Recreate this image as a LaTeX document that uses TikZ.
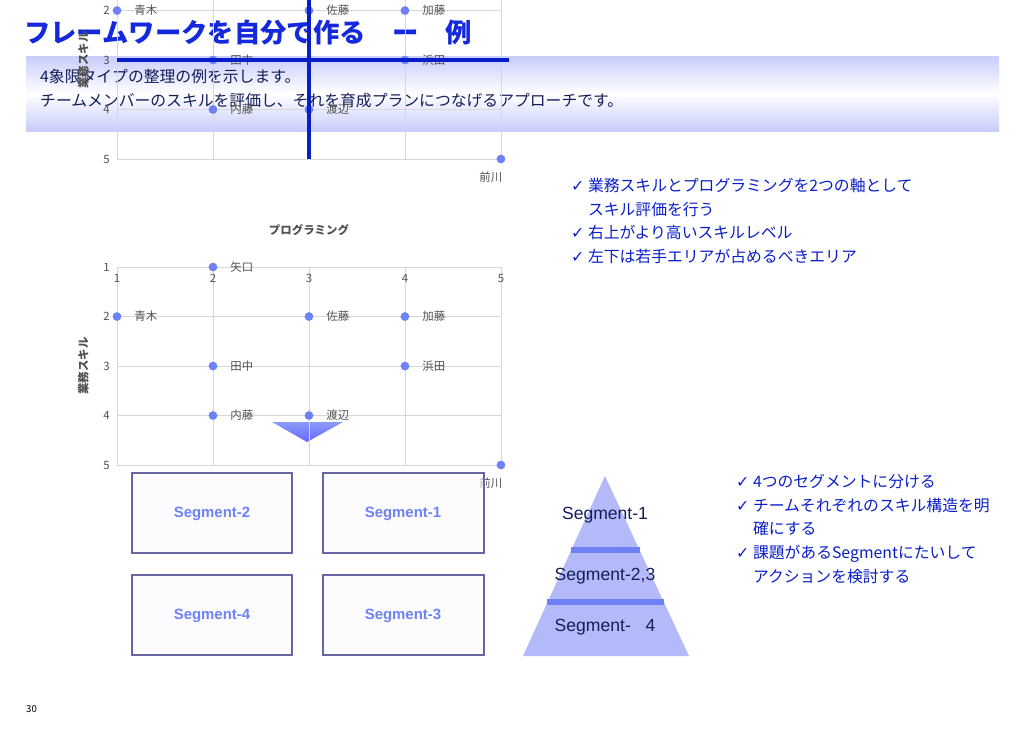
\documentclass[tikz,border=0pt]{standalone}
\usepackage{fontspec}
\setmainfont{Noto Sans CJK JP}
\newfontfamily\symfont{DejaVu Sans}
\newfontfamily\arialfont{Liberation Sans}
\usetikzlibrary{positioning}
\definecolor{titleblue}{RGB}{20,40,220}
\definecolor{textblue}{RGB}{10,30,200}
\definecolor{navy}{RGB}{20,30,90}
\definecolor{dotblue}{RGB}{110,130,245}
\definecolor{gridgray}{RGB}{215,215,215}
\definecolor{lavender}{RGB}{200,205,250}
\definecolor{namegray}{RGB}{80,80,80}
\newcommand{\chk}{{\symfont\char"2713}\ }
\tikzset{
    persondot/.style={fill=dotblue,shape=circle,minimum size=5pt,inner sep=0pt},
    person/.style={text=namegray,anchor=west,inner sep=1pt},
    axisnum/.style={text=namegray,inner sep=1pt},
    segbox/.style={draw=blue!40!black!60,fill=blue!2,thick},
    seglabel/.style={text=dotblue,font=\arialfont\bfseries\fontsize{8.5}{10}\selectfont},
    bullet/.style={text=textblue,align=left,font=\fontsize{9}{13.5}\selectfont},
}
\begin{document}
\begin{tikzpicture}[x=0.02cm,y=-0.02cm,font=\fontsize{6.5}{8}\selectfont]
    %
    \useasboundingbox (0,0) rectangle (1024,728);
    %
    % Title and header band
    \node[anchor=west,text=titleblue,font=\bfseries\fontsize{15}{18}\selectfont] (title) at (18,33) {フレームワークを自分で作る　ー　例};
    \shade[top color=lavender,bottom color=lavender,middle color=white] (26,56) rectangle (999,131);
    \node[anchor=north west,align=left,text=navy,font=\fontsize{9}{13.5}\selectfont] (intro) at (34,63)
        {4象限タイプの整理の例を示します。\\チームメンバーのスキルを評価し、それを育成プランにつなげるアプローチです。};
    %
    % Top chart
    \begin{scope}[shift={(117,159)},x=1.92cm,y=-0.99cm]
        \foreach \i in {1,...,5} {
            \draw[gridgray] (\i-1,-4) -- (\i-1,0);
            \draw[gridgray] (0,\i-5) -- (4,\i-5);
            \node[axisnum,below=3pt] (tx\i) at (\i-1,-4) {\i};
            \node[axisnum,left=3pt] (ty\i) at (0,\i-5) {\i};
        }
        \node[persondot] (maekawa) at (4,0) {};
        \node[axisnum,below left=6pt and -2pt] (lmaekawa) at (4,0) {前川};
        \foreach \x/\y/\n in {1/3/内藤,2/3/渡辺,1/2/田中,3/2/浜田,0/1/青木,2/1/佐藤,3/1/加藤,1/0/矢口} {
            \node[persondot] (p\n) at (\x,\y-4) {};
            \node[person,right=6pt of p\n] {\n};
        }
        \draw[textblue,line width=2pt] (0,-2) -- (4.08,-2);
        \draw[textblue,line width=2pt] (2,0) -- (2,-4.15);
        \node[axisnum,font=\bfseries\fontsize{6.5}{8}\selectfont] (xlab) at (2,-4.75) {プログラミング};
        \node[axisnum,rotate=90,font=\bfseries\fontsize{6.5}{8}\selectfont] (ylab) at (-0.35,-2) {業務スキル};
    \end{scope}
    %
    % Down arrow
    \shade[top color=dotblue!80,bottom color=blue!60] (272,422) -- (343,422) -- (307,442) -- cycle;
    %
    % Bottom chart
    \begin{scope}[shift={(117,465)},x=1.92cm,y=-0.99cm]
        \foreach \i in {1,...,5} {
            \draw[gridgray] (\i-1,-4) -- (\i-1,0);
            \draw[gridgray] (0,\i-5) -- (4,\i-5);
            \node[axisnum,below=3pt] (bx\i) at (\i-1,-4) {\i};
            \node[axisnum,left=3pt] (by\i) at (0,\i-5) {\i};
        }
        \node[persondot] (bmaekawa) at (4,0) {};
        \node[axisnum,below left=6pt and -2pt] (lbmaekawa) at (4,0) {前川};
        \foreach \x/\y/\n in {1/3/内藤,2/3/渡辺,1/2/田中,3/2/浜田,0/1/青木,2/1/佐藤,3/1/加藤,1/0/矢口} {
            \node[persondot] (b\n) at (\x,\y-4) {};
            \node[person,right=6pt of b\n] {\n};
        }
        \node[axisnum,font=\bfseries\fontsize{6.5}{8}\selectfont] (bxlab) at (2,-4.75) {プログラミング};
        \node[axisnum,rotate=90,font=\bfseries\fontsize{6.5}{8}\selectfont] (bylab) at (-0.35,-2) {業務スキル};
    \end{scope}
    %
    % Segment boxes
    \draw[segbox,fill opacity=0.6] (132,473) rectangle (292,553);
    \draw[segbox,fill opacity=0.6] (323,473) rectangle (484,553);
    \draw[segbox,fill opacity=0.6] (132,575) rectangle (292,655);
    \draw[segbox,fill opacity=0.6] (323,575) rectangle (484,655);
    \node[seglabel] (seg2) at (212,514) {Segment-2};
    \node[seglabel] (seg1) at (403,514) {Segment-1};
    \node[seglabel] (seg4) at (212,616) {Segment-4};
    \node[seglabel] (seg3) at (403,616) {Segment-3};
    %
    % Pyramid
    \fill[lavender!90!blue] (605,476) -- (689,656) -- (523,656) -- cycle;
    \draw[dotblue,line width=3pt] (571,550) -- (640,550);
    \draw[dotblue,line width=3pt] (547,602) -- (664,602);
    \node[text=navy,font=\arialfont\fontsize{10}{12}\selectfont] (pyr1) at (605,515) {Segment-1};
    \node[text=navy,font=\arialfont\fontsize{10}{12}\selectfont] (pyr2) at (605,576) {Segment-2,3};
    \node[text=navy,font=\arialfont\fontsize{10}{12}\selectfont] (pyr3) at (605,627) {Segment-\ \ \ 4};
    %
    % Notes
    \node[bullet,anchor=north west] (notes1) at (565,172)
        {\chk 業務スキルとプログラミングを2つの軸として\\\phantom{\chk}スキル評価を行う\\\chk 右上がより高いスキルレベル\\\chk 左下は若手エリアが占めるべきエリア};
    \node[bullet,anchor=north west] (notes2) at (730,468)
        {\chk 4つのセグメントに分ける\\\chk チームそれぞれのスキル構造を明\\\phantom{\chk}確にする\\\chk 課題があるSegmentにたいして\\\phantom{\chk}アクションを検討する};
    %
    \node[anchor=west,font=\fontsize{5.5}{7}\selectfont] (page) at (20,709) {30};
\end{tikzpicture}
\end{document}
